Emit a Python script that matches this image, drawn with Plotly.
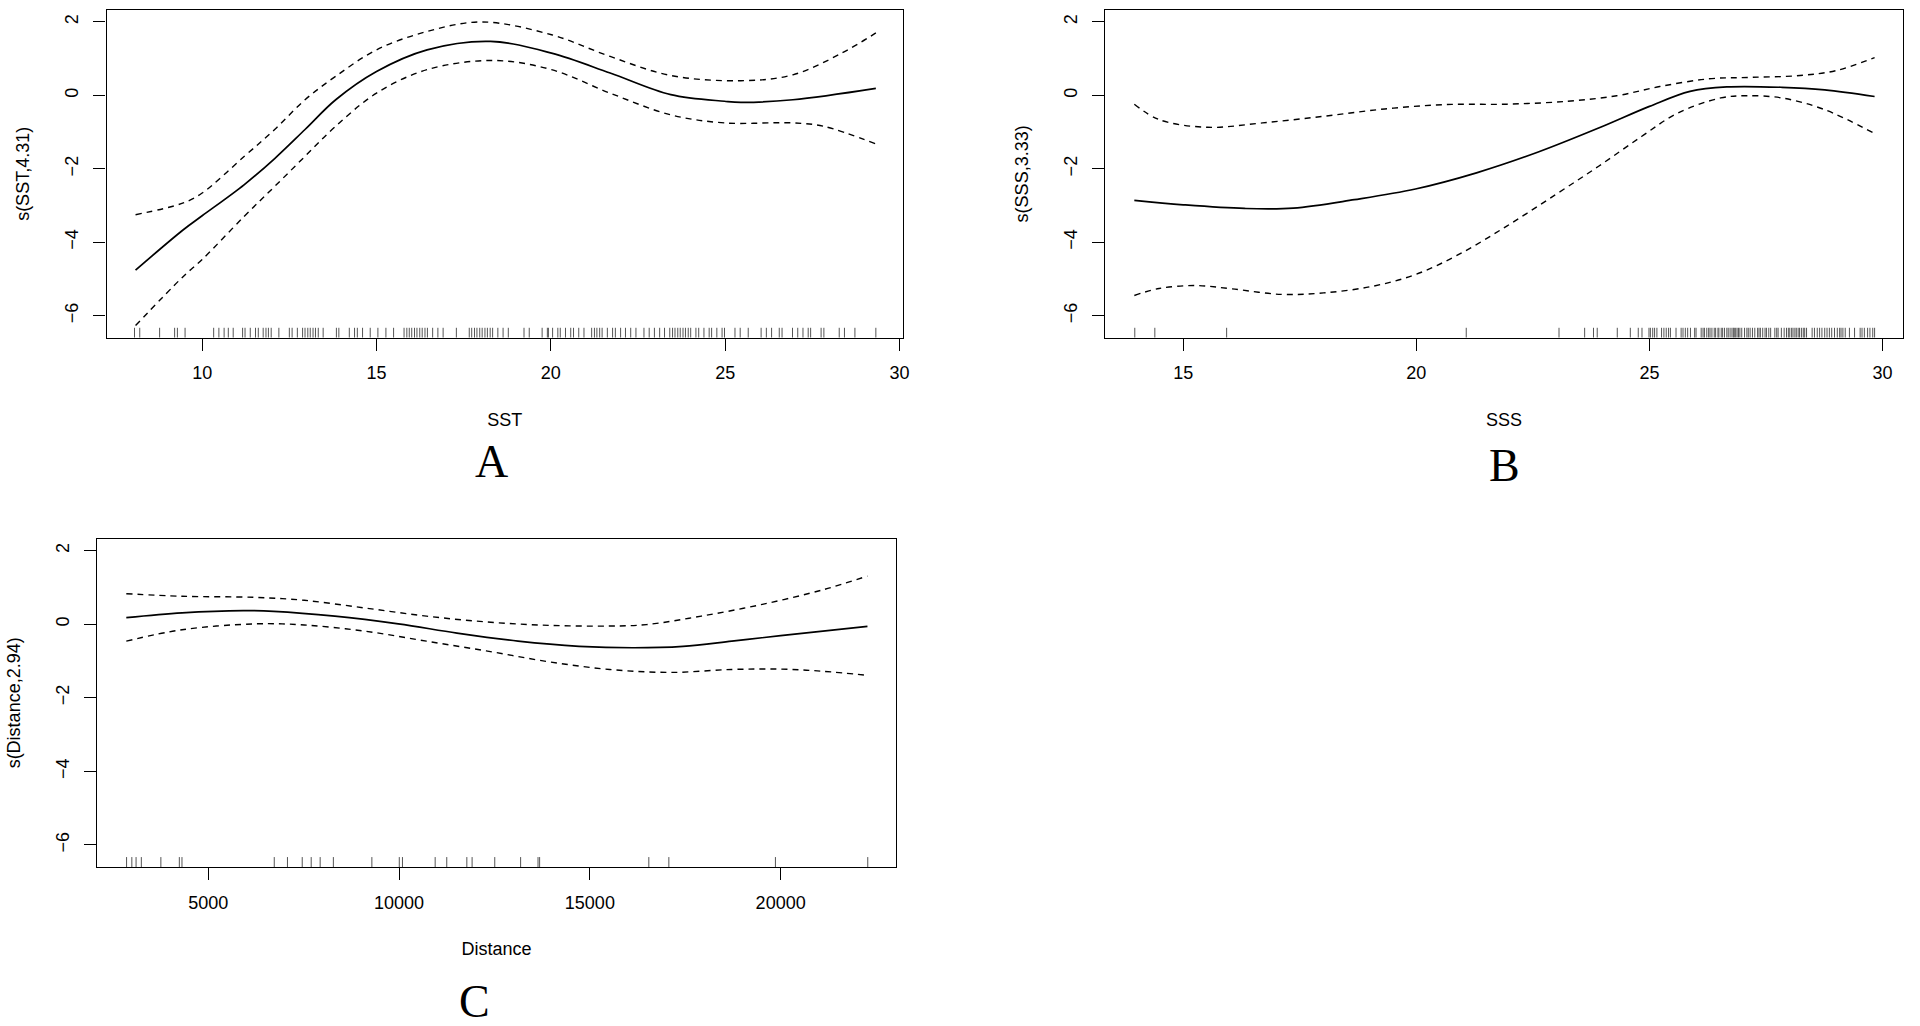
import plotly.graph_objects as go

# ---------------- data ----------------
# Panel A : SST
sst_x = [8.09, 9.46, 10.0, 11.21, 12.08, 12.95, 13.83, 15.0, 16.45, 18.27, 20.02, 21.7, 23.44, 24.98, 25.45, 26.94, 29.32]
sst_fit = [-4.76, -3.66, -3.28, -2.43, -1.72, -0.93, -0.12, 0.65, 1.24, 1.47, 1.15, 0.61, 0.02, -0.16, -0.19, -0.12, 0.19]
sst_up_x = [8.09, 9.46, 10.0, 11.21, 12.08, 12.95, 13.83, 15.0, 16.45, 18.02, 20.02, 21.7, 23.44, 25.45, 26.94, 28.34, 29.32]
sst_up = [-3.25, -2.93, -2.66, -1.66, -0.93, -0.12, 0.52, 1.24, 1.74, 2.0, 1.65, 1.06, 0.54, 0.40, 0.56, 1.15, 1.70]
sst_lo_x = [8.09, 9.46, 10.0, 11.21, 12.08, 12.95, 13.83, 15.0, 16.45, 18.37, 20.02, 21.7, 23.44, 24.98, 26.94, 27.81, 29.32]
sst_lo = [-6.27, -4.93, -4.47, -3.29, -2.48, -1.66, -0.84, 0.06, 0.70, 0.95, 0.70, 0.06, -0.53, -0.75, -0.75, -0.84, -1.32]
sst_rug = [8.06, 8.21, 8.78, 9.21, 9.29, 9.51, 10.33, 10.48, 10.63, 10.75, 10.89, 11.16, 11.23, 11.38,
           11.53, 11.61, 11.75, 11.83, 11.90, 11.98, 12.20, 12.50, 12.58, 12.73, 12.88, 12.95, 13.03,
           13.10, 13.18, 13.25, 13.33, 13.47, 13.85, 13.92, 14.22, 14.37, 14.45, 14.60, 14.82, 15.04,
           15.27, 15.49, 15.79, 15.87, 15.94, 16.01, 16.09, 16.16, 16.24, 16.31, 16.39, 16.46, 16.61,
           16.76, 16.91, 17.29, 17.66, 17.73, 17.81, 17.88, 17.96, 18.03, 18.11, 18.18, 18.26, 18.33,
           18.48, 18.63, 18.78, 19.23, 19.38, 19.75, 19.90, 19.93, 20.05, 20.20, 20.27, 20.42, 20.57,
           20.65, 20.80, 20.95, 21.17, 21.25, 21.32, 21.40, 21.47, 21.62, 21.77, 21.85, 22.00, 22.14,
           22.29, 22.44, 22.67, 22.82, 22.97, 23.12, 23.26, 23.41, 23.49, 23.56, 23.64, 23.71, 23.79,
           23.86, 23.94, 24.01, 24.16, 24.24, 24.39, 24.54, 24.61, 24.76, 24.91, 24.98, 25.28, 25.43,
           25.66, 26.03, 26.18, 26.33, 26.55, 26.63, 26.93, 27.08, 27.23, 27.38, 27.45, 27.75, 27.83,
           28.27, 28.42, 28.72, 29.32]

# Panel B : SSS
sss_x = [13.95, 15.0, 16.31, 17.36, 18.67, 19.98, 21.29, 22.6, 23.91, 25.0, 25.87, 26.66, 27.84, 28.76, 29.83]
sss_fit = [-2.86, -2.98, -3.08, -3.07, -2.84, -2.55, -2.11, -1.55, -0.89, -0.30, 0.11, 0.23, 0.22, 0.15, -0.03]
sss_up_x = [13.95, 14.48, 15.52, 16.7, 18.01, 19.32, 20.63, 21.94, 23.25, 24.3, 25.22, 26.27, 27.18, 28.23, 29.02, 29.83]
sss_up = [-0.24, -0.66, -0.87, -0.75, -0.57, -0.37, -0.25, -0.24, -0.16, -0.01, 0.24, 0.45, 0.49, 0.54, 0.68, 1.03]
sss_lo_x = [13.95, 14.48, 15.26, 16.05, 17.1, 18.01, 19.06, 19.98, 20.9, 21.94, 22.99, 23.91, 24.83, 25.61, 26.53, 27.05, 27.84, 28.76, 29.83]
sss_lo = [-5.45, -5.26, -5.18, -5.27, -5.42, -5.38, -5.20, -4.88, -4.34, -3.56, -2.70, -1.93, -1.12, -0.48, -0.07, -0.01, -0.07, -0.39, -1.04]
sss_rug = [13.96, 14.39, 15.93, 21.07, 23.06, 23.61, 23.80, 23.88, 24.31, 24.59, 24.76, 24.84, 24.99,
           25.02, 25.07, 25.11, 25.16, 25.26, 25.31, 25.36, 25.41, 25.45, 25.57, 25.68, 25.72, 25.77,
           25.82, 25.88, 25.97, 26.00, 26.11, 26.15, 26.18, 26.23, 26.27, 26.30, 26.34, 26.39, 26.42,
           26.47, 26.49, 26.54, 26.57, 26.61, 26.66, 26.69, 26.73, 26.77, 26.80, 26.82, 26.85, 26.88,
           26.91, 26.94, 26.98, 27.04, 27.09, 27.12, 27.16, 27.21, 27.26, 27.32, 27.35, 27.38, 27.43,
           27.48, 27.51, 27.56, 27.60, 27.69, 27.73, 27.76, 27.83, 27.89, 27.94, 27.98, 28.01, 28.05,
           28.08, 28.12, 28.15, 28.19, 28.22, 28.26, 28.30, 28.33, 28.37, 28.49, 28.54, 28.60, 28.65,
           28.70, 28.76, 28.81, 28.86, 28.91, 28.97, 29.03, 29.08, 29.11, 29.15, 29.20, 29.29, 29.40,
           29.52, 29.56, 29.61, 29.68, 29.73, 29.79, 29.83]

# Panel C : Distance
dist_x = [2850, 4312, 5913, 6713, 8314, 9979, 11516, 13117, 14718, 16159, 17440, 18721, 20001, 22275]
dist_fit = [0.18, 0.31, 0.37, 0.35, 0.22, 0.01, -0.24, -0.46, -0.60, -0.64, -0.60, -0.46, -0.31, -0.06]
dist_up_x = [2850, 4312, 6233, 7514, 9115, 10716, 12317, 13918, 15519, 16480, 17920, 19521, 21122, 22275]
dist_up = [0.83, 0.76, 0.73, 0.65, 0.44, 0.22, 0.06, -0.03, -0.05, -0.01, 0.22, 0.54, 0.94, 1.31]
dist_lo_x = [2850, 4312, 6233, 7514, 9115, 10716, 12317, 13918, 15519, 17120, 18721, 20001, 21122, 22275]
dist_lo = [-0.46, -0.15, 0.01, -0.02, -0.19, -0.46, -0.73, -1.02, -1.23, -1.31, -1.23, -1.22, -1.28, -1.39]
dist_rug = [2857, 2995, 3106, 3244, 3756, 4240, 4309, 6728, 7074, 7461, 7696, 7931, 8277, 9286, 10005,
            10088, 10945, 11249, 11775, 11913, 12507, 13185, 13641, 13683, 16545, 17070, 19863, 22283]

y_ticks = [-6, -4, -2, 0, 2]
sst_ticks = [10, 15, 20, 25, 30]
sss_ticks = [15, 20, 25, 30]
dist_ticks = [5000, 10000, 15000, 20000]

y_titles = ["s(SST,4.31)", "s(SSS,3.33)", "s(Distance,2.94)"]
x_titles = ["SST", "SSS", "Distance"]
panel_letters = ["A", "B", "C"]

# ---------------- figure ----------------
W, H = 1920, 1026
Y_RANGE = [-6.6, 2.325]
RUG_H = 0.27

fig = go.Figure()


def rug_xy(vals):
    xs, ys = [], []
    for v in vals:
        xs += [v, v, None]
        ys += [Y_RANGE[0], Y_RANGE[0] + RUG_H, None]
    return xs, ys


panels = [
    ("x", "y", sst_x, sst_fit, sst_up_x, sst_up, sst_lo_x, sst_lo, sst_rug),
    ("x2", "y2", sss_x, sss_fit, sss_up_x, sss_up, sss_lo_x, sss_lo, sss_rug),
    ("x3", "y3", dist_x, dist_fit, dist_up_x, dist_up, dist_lo_x, dist_lo, dist_rug),
]

for xa, ya, fx, fy, ux, uy, lx, ly, rug in panels:
    rx, ry = rug_xy(rug)
    fig.add_trace(go.Scatter(x=rx, y=ry, mode="lines", xaxis=xa, yaxis=ya,
                             line=dict(color="#555555", width=1), showlegend=False, hoverinfo="skip"))
    fig.add_trace(go.Scatter(x=ux, y=uy, mode="lines", xaxis=xa, yaxis=ya, line_shape="spline",
                             line=dict(color="black", width=1.4, dash="6px,5px"), showlegend=False))
    fig.add_trace(go.Scatter(x=lx, y=ly, mode="lines", xaxis=xa, yaxis=ya, line_shape="spline",
                             line=dict(color="black", width=1.4, dash="6px,5px"), showlegend=False))
    fig.add_trace(go.Scatter(x=fx, y=fy, mode="lines", xaxis=xa, yaxis=ya, line_shape="spline",
                             line=dict(color="black", width=1.7), showlegend=False))

FONT = "Liberation Sans, Arial, sans-serif"
tickfont = dict(family=FONT, size=18, color="black")
titlefont = dict(family=FONT, size=18, color="black")

common_x = dict(showline=True, mirror=True, linecolor="black", linewidth=1.3, ticks="outside",
                ticklen=12, tickwidth=1.3, tickcolor="black", showgrid=False, zeroline=False,
                tickfont=tickfont, ticklabelstandoff=7, title_font=titlefont, title_standoff=30)
common_y = dict(showline=True, mirror=True, linecolor="black", linewidth=1.3, ticks="outside",
                ticklen=12, tickwidth=1.3, tickcolor="black", showgrid=False, zeroline=False,
                tickfont=tickfont, tickangle=-90, tickvals=y_ticks, range=Y_RANGE,
                ticklabelstandoff=8, title_font=titlefont, title_standoff=27)


def px(v):
    return v / W


def py(v):
    return 1 - v / H


fig.update_layout(
    width=W, height=H,
    margin=dict(l=0, r=0, t=0, b=0),
    paper_bgcolor="white", plot_bgcolor="white",
    xaxis=dict(domain=[px(107), px(906)], range=[7.26, 30.09], tickvals=sst_ticks, anchor="y",
               title_text=x_titles[0], **common_x),
    yaxis=dict(domain=[py(337.7), py(10)], anchor="x", title_text=y_titles[0], **common_y),
    xaxis2=dict(domain=[px(1109), px(1910)], range=[13.32, 30.44], tickvals=sss_ticks, anchor="y2",
                title_text=x_titles[1], **common_x),
    yaxis2=dict(domain=[py(337.7), py(10)], anchor="x2", title_text=y_titles[1], **common_y),
    xaxis3=dict(domain=[px(97.7), px(899)], range=[2091, 23016], tickvals=dist_ticks, tickformat="d",
                anchor="y3", title_text=x_titles[2], **common_x),
    yaxis3=dict(domain=[py(867), py(538.7)], anchor="x3", title_text=y_titles[2], **common_y),
)

letter_pos = [(493, 462), (1510, 465), (476, 1001)]
for letter, (lx_, ly_) in zip(panel_letters, letter_pos):
    fig.add_annotation(text=letter, x=px(lx_), y=py(ly_), xref="paper", yref="paper",
                       showarrow=False, xanchor="center", yanchor="middle",
                       font=dict(family="Liberation Serif, Times New Roman, serif", size=46, color="black"))

fig.write_html("out.html", config={"displayModeBar": False},
               post_script="document.body.style.margin='0';document.body.style.overflow='hidden';")
